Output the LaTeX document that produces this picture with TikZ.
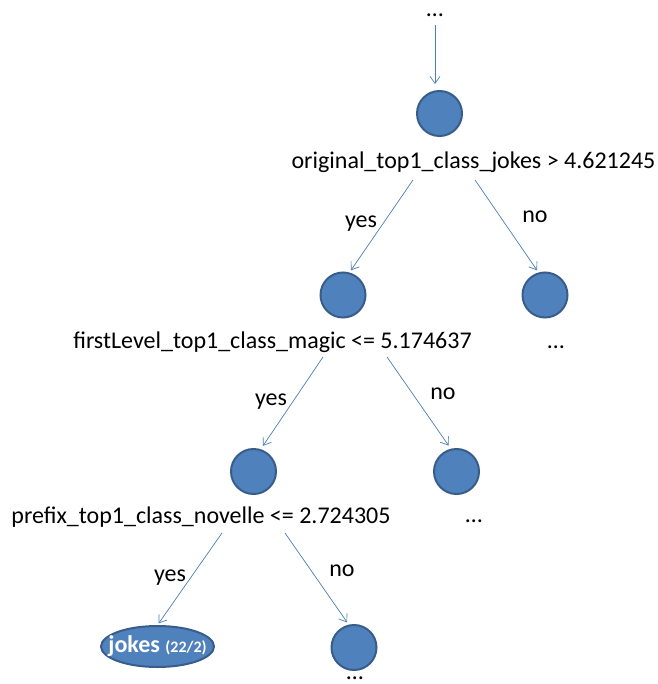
\documentclass[tikz,border=0pt]{standalone}
\usepackage{fontspec}
\setmainfont{Carlito}
\usetikzlibrary{arrows.meta,shapes.geometric}

\definecolor{nodefill}{HTML}{4F81BD}
\definecolor{nodeline}{HTML}{385D8A}
\definecolor{branchline}{HTML}{4A7EBB}

\tikzset{
	split/.style={circle, fill=nodefill, draw=nodeline, line width=2pt, minimum size=45pt, inner sep=0pt},
	leaf/.style={ellipse, fill=nodefill, draw=nodeline, line width=2pt, minimum width=113pt, minimum height=41pt, inner sep=0pt},
	leaftext/.style={inner sep=0pt, text=white, font=\bfseries\fontsize{24}{28}\selectfont},
	test/.style={anchor=base, inner sep=0pt, font=\fontsize{24}{28}\selectfont},
	branch/.style={draw=branchline, line width=0.7pt, -{Straight Barb[length=7pt,width=10pt]}},
}

\begin{document}
\begin{tikzpicture}[x=1pt, y=-1pt]
		\useasboundingbox (0,0) rectangle (657,684);

		% nodes of the tree
		\node[split] (root) at (439.5,113.5) {};
		\node[split] (magic) at (343,295) {};
		\node[split] (rightA) at (545,295) {};
		\node[split] (novelle) at (253.5,471.5) {};
		\node[split] (rightB) at (456.5,471.5) {};
		\node[leaf, label={[leaftext]center:jokes {\fontsize{16}{18}\selectfont (22/2)}}] (jokes) at (157.5,646.5) {};
		\node[split] (rightC) at (354,647.5) {};

		% tests and answers
		\node[test] (origtest) at (473.5,169) {original\_top1\_class\_jokes > 4.621245};
		\node[test] (magictest) at (272.5,348) {firstLevel\_top1\_class\_magic <= 5.174637};
		\node[test] (noveltest) at (201,523) {prefix\_top1\_class\_novelle <= 2.724305};
		\node[test] (yesA) at (361,228) {yes};
		\node[test] (noA) at (535,223) {no};
		\node[test] (yesB) at (271,405) {yes};
		\node[test] (noB) at (443,399) {no};
		\node[test] (yesC) at (170,581) {yes};
		\node[test] (noC) at (342,576) {no};

		% cut parts of the tree
		\node[test] (upper) at (435,17) {…};
		\node[test] (moreA) at (556,348) {…};
		\node[test] (moreB) at (474,522) {…};
		\node[test] (moreC) at (355,679) {…};

		\coordinate (yesAfrom) at (413,180);
		\coordinate (noAfrom) at (475,180);
		\coordinate (yesBfrom) at (323,357);
		\coordinate (noBfrom) at (387,357);
		\coordinate (yesCfrom) at (222,533);
		\coordinate (noCfrom) at (285,533);

		% branches
		\draw[branch, shorten <=8pt, shorten >=6pt] (upper.south) -- (upper.south |- root.north);
		\draw[branch, shorten >=2.5pt] (yesAfrom) -- (magic.74);
		\draw[branch, shorten >=2.5pt] (noAfrom) -- (rightA.106);
		\draw[branch, shorten >=4pt] (yesBfrom) -- (novelle.72);
		\draw[branch, shorten >=3.8pt] (noBfrom) -- (rightB.104);
		\draw[branch, shorten >=2pt] (yesCfrom) -- (jokes.north);
		\draw[branch, shorten >=2.7pt] (noCfrom) -- (rightC.103);
	\end{tikzpicture}
\end{document}
